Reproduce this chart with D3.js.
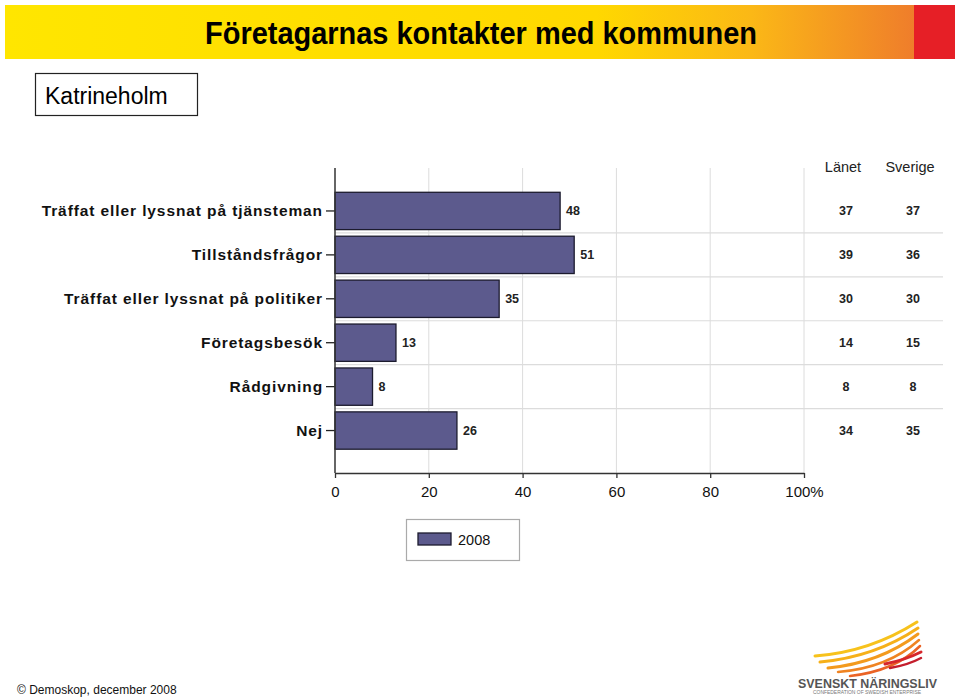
<!DOCTYPE html>
<html>
<head>
<meta charset="utf-8">
<script src="https://cdn.jsdelivr.net/npm/d3@7"></script>
<style>
  body { margin: 0; background: #fff; }
  svg { display: block; font-family: Arial, "Liberation Sans", sans-serif; }
</style>
</head>
<body>
<svg id="chart" width="960" height="698"></svg>
<script>
// data
const categories = [
  "Träffat eller lyssnat på tjänsteman",
  "Tillståndsfrågor",
  "Träffat eller lyssnat på politiker",
  "Företagsbesök",
  "Rådgivning",
  "Nej"
];
const values2008 = [48, 51, 35, 13, 8, 26];
const lanet = [37, 39, 30, 14, 8, 34];
const sverige = [37, 36, 30, 15, 8, 35];
const xTicks = [0, 20, 40, 60, 80, 100];

const rows = categories.map((c, i) => ({
  cat: c, v: values2008[i], lan: lanet[i], sve: sverige[i]
}));

const svg = d3.select("#chart");

/**
 * BANNER
 */
const defs = svg.append("defs");
const grad = defs.append("linearGradient").attr("id", "banner");
grad.append("stop").attr("offset", "0%").attr("stop-color", "#ffe600");
grad.append("stop").attr("offset", "65%").attr("stop-color", "#ffd800");
grad.append("stop").attr("offset", "82%").attr("stop-color", "#fbb816");
grad.append("stop").attr("offset", "100%").attr("stop-color", "#ef7d2b");

svg.append("rect").attr("x", 5).attr("y", 5).attr("width", 910).attr("height", 54)
  .attr("fill", "url(#banner)");
svg.append("rect").attr("x", 914).attr("y", 5).attr("width", 41).attr("height", 54)
  .attr("fill", "#e61f26");

svg.append("text")
  .attr("x", 481).attr("y", 44)
  .attr("text-anchor", "middle")
  .attr("font-family", "'Liberation Sans Narrow', 'Arial Narrow', Arial, sans-serif")
  .attr("font-weight", "bold")
  .attr("font-size", 31)
  .attr("textLength", 552)
  .attr("lengthAdjust", "spacingAndGlyphs")
  .text("Företagarnas kontakter med kommunen");

// kommun box
svg.append("rect").attr("x", 35.5).attr("y", 73.5).attr("width", 162).attr("height", 42)
  .attr("fill", "#fff").attr("stroke", "#222").attr("stroke-width", 1.2);
svg.append("text").attr("x", 45).attr("y", 104).attr("font-size", 23)
  .text("Katrineholm");

/**
 * SCALES
 */
const x = d3.scaleLinear().domain([0, 100]).range([335, 804]);
const y = d3.scaleBand().domain(categories).range([189, 452.5])
  .paddingInner(0.15).paddingOuter(0.075);
const plotTop = 168, plotBottom = 473;

// vertical grid
svg.append("g").selectAll("line")
  .data(xTicks.slice(1))
  .join("line")
  .attr("x1", d => x(d)).attr("x2", d => x(d))
  .attr("y1", plotTop).attr("y2", plotBottom)
  .attr("stroke", "#dcdcdc").attr("stroke-width", 1);

// row separators
const step = y.step();
svg.append("g").selectAll("line")
  .data(categories.slice(1))
  .join("line")
  .attr("x1", 335).attr("x2", 943)
  .attr("y1", d => y(d) - step * y.paddingInner() / 2)
  .attr("y2", d => y(d) - step * y.paddingInner() / 2)
  .attr("stroke", "#dcdcdc").attr("stroke-width", 1.2);

// bars
svg.append("g").selectAll("rect")
  .data(rows)
  .join("rect")
  .attr("x", x(0))
  .attr("y", d => y(d.cat))
  .attr("width", d => x(d.v) - x(0))
  .attr("height", y.bandwidth())
  .attr("fill", "#5c5a8d")
  .attr("stroke", "#1c1b2e")
  .attr("stroke-width", 1.3);

// value labels
svg.append("g").selectAll("text")
  .data(rows)
  .join("text")
  .attr("x", d => x(d.v) + 6)
  .attr("y", d => y(d.cat) + y.bandwidth() / 2 + 4.5)
  .attr("font-size", 12.5).attr("font-weight", "bold").attr("fill", "#222")
  .text(d => d.v);

// y axis
const yAxis = svg.append("g")
  .attr("transform", "translate(335,0)")
  .call(d3.axisLeft(y).tickSize(9).tickPadding(3).tickSizeOuter(0));
yAxis.select(".domain").remove();
yAxis.selectAll(".tick line").attr("stroke", "#222").attr("stroke-width", 1.3);
yAxis.selectAll(".tick text")
  .attr("font-size", 15.5).attr("font-weight", "bold").attr("fill", "#111")
  .attr("font-family", "Arial, 'Liberation Sans', sans-serif")
  .attr("letter-spacing", 0.9);
svg.append("line").attr("x1", 335).attr("x2", 335).attr("y1", plotTop).attr("y2", plotBottom)
  .attr("stroke", "#333").attr("stroke-width", 1.5);

// x axis
const xAxis = svg.append("g")
  .attr("transform", `translate(0,${plotBottom})`)
  .call(d3.axisBottom(x).tickValues(xTicks).tickSize(5).tickSizeOuter(0)
    .tickFormat(d => d === 100 ? "100%" : d));
xAxis.select(".domain").attr("stroke", "#333").attr("stroke-width", 1.5);
xAxis.selectAll(".tick line").attr("stroke", "#333").attr("stroke-width", 1.3);
xAxis.selectAll(".tick text")
  .attr("font-size", 15).attr("fill", "#111").attr("dy", "1.05em")
  .attr("font-family", "Arial, 'Liberation Sans', sans-serif");

/**
 * LÄNET / SVERIGE COLUMNS
 */
const cols = [
  { name: "Länet", cx: 846, vals: d => d.lan },
  { name: "Sverige", cx: 913, vals: d => d.sve }
];
cols.forEach(c => {
  svg.append("text").attr("x", c.cx - 3).attr("y", 172)
    .attr("text-anchor", "middle").attr("font-size", 14.5).attr("fill", "#222")
    .text(c.name);
  svg.append("g").selectAll("text")
    .data(rows)
    .join("text")
    .attr("x", c.cx)
    .attr("y", d => y(d.cat) + y.bandwidth() / 2 + 4.5)
    .attr("text-anchor", "middle")
    .attr("font-size", 12.5).attr("font-weight", "bold").attr("fill", "#222")
    .text(c.vals);
});

/**
 * LEGEND
 */
svg.append("rect").attr("x", 406.5).attr("y", 519.5).attr("width", 113).attr("height", 41)
  .attr("fill", "#fff").attr("stroke", "#aaa").attr("stroke-width", 1.2);
svg.append("rect").attr("x", 418).attr("y", 533).attr("width", 33).attr("height", 12)
  .attr("fill", "#5c5a8d").attr("stroke", "#1c1b2e").attr("stroke-width", 1.3);
svg.append("text").attr("x", 458).attr("y", 545).attr("font-size", 14.5).attr("fill", "#111")
  .text("2008");

// footer
svg.append("text").attr("x", 17).attr("y", 694).attr("font-size", 12).attr("fill", "#111")
  .text("© Demoskop, december 2008");

/**
 * LOGO
 */
const logo = svg.append("g");
const wings = [
  { d: "M815,656 Q870,652 917,622", c: "#f7c21c", w: 3 },
  { d: "M820,662 Q875,657 918,628", c: "#f6b019", w: 3 },
  { d: "M828,668 Q880,663 918,634", c: "#f39a1d", w: 3 },
  { d: "M838,672 Q888,668 919,640", c: "#ef8322", w: 2.5 },
  { d: "M850,676 Q895,671 920,646", c: "#ea6325", w: 2.5 },
  { d: "M885,664 Q905,660 921,652", c: "#d6262b", w: 3 },
  { d: "M890,668 Q908,665 921,658", c: "#c41e2d", w: 2.5 }
];
logo.selectAll("path")
  .data(wings)
  .join("path")
  .attr("d", d => d.d)
  .attr("fill", "none")
  .attr("stroke", d => d.c)
  .attr("stroke-width", d => d.w)
  .attr("stroke-linecap", "round");
logo.append("text").attr("x", 798).attr("y", 688)
  .attr("font-size", 13).attr("font-weight", "bold").attr("fill", "#555")
  .attr("textLength", 139).attr("lengthAdjust", "spacingAndGlyphs")
  .text("SVENSKT NÄRINGSLIV");
logo.append("text").attr("x", 813).attr("y", 694)
  .attr("font-size", 4.5).attr("fill", "#777")
  .attr("textLength", 108).attr("lengthAdjust", "spacingAndGlyphs")
  .text("CONFEDERATION OF SWEDISH ENTERPRISE");
</script>
</body>
</html>
